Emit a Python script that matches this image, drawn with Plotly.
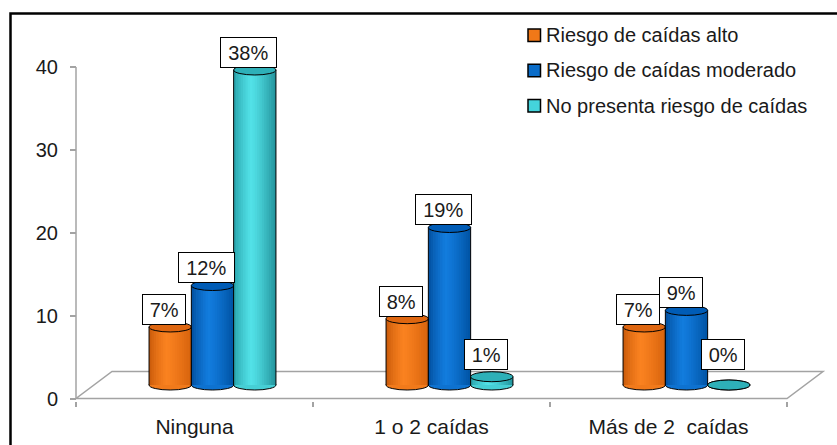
import plotly.graph_objects as go

# ---- data -------------------------------------------------------------
categories = ["Ninguna", "1 o 2 caídas", "Más de 2\u00a0 caídas"]
series_names = ["Riesgo de caídas alto",
                "Riesgo de caídas moderado",
                "No presenta riesgo de caídas"]
riesgo_alto = [7, 8, 7]
riesgo_moderado = [12, 19, 9]
sin_riesgo = [38, 1, 0]
y_ticks = [0, 10, 20, 30, 40]

series_values = [riesgo_alto, riesgo_moderado, sin_riesgo]

# ---- styling ------------------------------------------------------------
FONT = "Liberation Sans, Arial, sans-serif"
TXT = "#1a1a1a"
GRAY = "#a3a3a3"

# cylinder shading: left edge, highlight, right edge, cap, legend swatch
styles = [
    dict(left=(196, 86, 8), mid=(250, 130, 32), right=(214, 98, 12),
         cap=(222, 102, 16), swatch="#f07818"),
    dict(left=(0, 74, 152), mid=(18, 124, 222), right=(0, 82, 162),
         cap=(0, 92, 182), swatch="#0a6cc8"),
    dict(left=(36, 156, 164), mid=(82, 226, 232), right=(34, 146, 154),
         cap=(46, 176, 184), swatch="#44d4dc"),
]

# ---- canvas / scales ------------------------------------------------------
W, H = 837, 445
ML, MR, MT, MB = 0, 0, 15, 44
KX = 237.0          # pixels per category
KY = 8.29           # pixels per value unit
X0PX = 76.0         # pixel column of the value axis
YMIN = -0.3
x_range = [-X0PX / KX, (W - X0PX) / KX]
y_range = [YMIN, YMIN + (H - MT - MB) / KY]

BAR_W = 42.3 / KX
DEPTH_X = 36.0 / KX
DEPTH_Y = 27.0 / KY
RY = 5.0 / KY
N_STRIPS = 18


def rgb(c):
    return "rgb(%d,%d,%d)" % tuple(int(round(v)) for v in c)


def mix(a, b, t):
    return tuple(a[i] + (b[i] - a[i]) * t for i in range(3))


def shade(st, t):
    # highlight sits a little left of the centre, like a lit cylinder
    hp = 0.4
    if t <= hp:
        return mix(st["left"], st["mid"], (t / hp) ** 0.7)
    return mix(st["mid"], st["right"], ((t - hp) / (1 - hp)) ** 1.3)


def px_x(px):
    return (px - ML) / (W - ML - MR)


def px_y(py):
    return (H - MB - py) / (H - MT - MB)


shapes = []
annots = []

# floor of the 3-D plot
n_cat = len(categories)
shapes.append(dict(
    type="path", xref="x", yref="y",
    path="M 0,0 L %f,0 L %f,%f L %f,%f Z" % (
        n_cat, n_cat + DEPTH_X, DEPTH_Y, DEPTH_X, DEPTH_Y),
    fillcolor="white", line=dict(color=GRAY, width=1.5), layer="below"))

# value axis line
shapes.append(dict(type="line", xref="x", yref="y", x0=0, x1=0,
                   y0=0, y1=max(y_ticks),
                   line=dict(color=GRAY, width=1.5), layer="above"))

base = DEPTH_Y / 2.0
n_ser = len(series_values)
for ci in range(n_cat):
    group_c = ci + 0.5 + DEPTH_X / 2.0
    for si in range(n_ser):
        v = series_values[si][ci]
        st = styles[si]
        cx = group_c + (si - (n_ser - 1) / 2.0) * BAR_W
        xl, xr = cx - BAR_W / 2.0, cx + BAR_W / 2.0
        top = base + v
        # bottom rim
        shapes.append(dict(type="circle", xref="x", yref="y",
                           x0=xl, x1=xr, y0=base - RY, y1=base + RY,
                           fillcolor=rgb(shade(st, 0.6)),
                           line=dict(color="black", width=1)))
        if v > 0:
            sw = BAR_W / N_STRIPS
            for k in range(N_STRIPS):
                t = (k + 0.5) / N_STRIPS
                shapes.append(dict(type="rect", xref="x", yref="y",
                                   x0=xl + k * sw,
                                   x1=min(xr, xl + (k + 1.35) * sw),
                                   y0=base, y1=top,
                                   fillcolor=rgb(shade(st, t)),
                                   line=dict(width=0)))
            for ex in (xl, xr):
                shapes.append(dict(type="line", xref="x", yref="y",
                                   x0=ex, x1=ex, y0=base, y1=top,
                                   line=dict(color="black", width=1)))
        # top cap
        shapes.append(dict(type="circle", xref="x", yref="y",
                           x0=xl, x1=xr, y0=top - RY, y1=top + RY,
                           fillcolor=rgb(st["cap"]),
                           line=dict(color="black", width=1)))
        # value label
        txt = "%d%%" % v
        annots.append(dict(
            xref="x", yref="y", x=cx - 6.0 / KX,
            y=base + max(v, 1.62) + 0.25,
            xanchor="center", yanchor="bottom", showarrow=False,
            text=txt, font=dict(family=FONT, size=20, color=TXT),
            bgcolor="white", bordercolor="black", borderwidth=1,
            borderpad=3, width=12 + 12.2 * len(txt), height=23))

# legend
for si, name in enumerate(series_names):
    yc = 35.3 + 35.2 * si
    shapes.append(dict(type="rect", xref="paper", yref="paper",
                       x0=px_x(528), x1=px_x(540.5),
                       y0=px_y(yc + 6.3), y1=px_y(yc - 6.3),
                       fillcolor=styles[si]["swatch"],
                       line=dict(color="black", width=1.5)))
    annots.append(dict(xref="paper", yref="paper", x=px_x(544), y=px_y(yc),
                       xanchor="left", yanchor="middle", showarrow=False,
                       text=name, font=dict(family=FONT, size=20, color=TXT)))

# chart frame
shapes.append(dict(type="rect", xref="paper", yref="paper",
                   x0=px_x(10.5), x1=px_x(W + 20),
                   y0=px_y(H + 20), y1=px_y(13.5),
                   line=dict(color="black", width=2.5),
                   fillcolor="rgba(0,0,0,0)"))

fig = go.Figure()
fig.update_layout(
    width=W, height=H,
    margin=dict(l=ML, r=MR, t=MT, b=MB, pad=0),
    paper_bgcolor="white", plot_bgcolor="white",
    showlegend=False,
    shapes=shapes, annotations=annots,
    xaxis=dict(range=x_range, showgrid=False, zeroline=False,
               showline=False, tickmode="array",
               tickvals=[i + 0.5 for i in range(n_cat)],
               ticktext=categories, ticks="",
               ticklabelstandoff=11,
               tickfont=dict(family=FONT, size=21, color=TXT),
               minor=dict(tickmode="array",
                          tickvals=list(range(n_cat + 1)),
                          ticks="outside", ticklen=5, tickwidth=1.5,
                          tickcolor=GRAY),
               fixedrange=True),
    yaxis=dict(range=y_range, showgrid=False, zeroline=False,
               showline=False, anchor="free",
               position=X0PX / W,
               tickmode="array", tickvals=y_ticks,
               ticks="outside", ticklen=6, tickwidth=1.5, tickcolor=GRAY,
               ticklabelstandoff=8,
               tickfont=dict(family=FONT, size=20, color=TXT),
               fixedrange=True),
)

fig.write_html("out.html")
